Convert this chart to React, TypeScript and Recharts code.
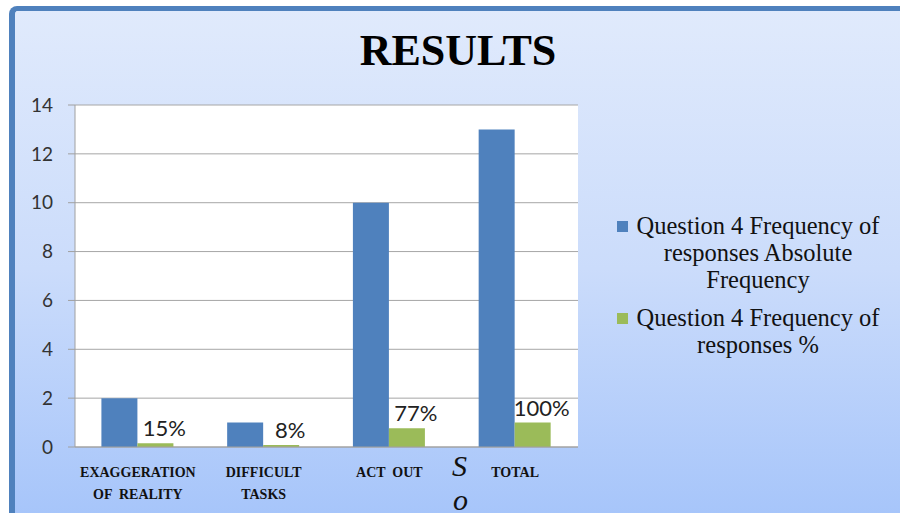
import { BarChart, Bar, XAxis, YAxis, CartesianGrid, LabelList } from 'recharts'

const categories = ['EXAGGERATION\nOF  REALITY', 'DIFFICULT\nTASKS', 'ACT  OUT', 'TOTAL']
const absoluteFrequency = [2, 1, 10, 13]
const percentFrequency = [0.15, 0.08, 0.77, 1.0]
const percentLabels = ['15%', '8%', '77%', '100%']
const yTicks = [0, 2, 4, 6, 8, 10, 12, 14]

const seriesNames = [
  'Question 4 Frequency of responses Absolute Frequency',
  'Question 4 Frequency of responses %',
]
const legendLines = [
  ['Question 4 Frequency of', 'responses Absolute', 'Frequency'],
  ['Question 4 Frequency of', 'responses %'],
]

const BLUE = '#4F81BD'
const GREEN = '#9BBB59'
const SERIF = '"Liberation Serif", "Times New Roman", serif'
const SANS = 'Lato, "Open Sans", sans-serif'

const data = categories.map((c, i) => ({
  name: c,
  abs: absoluteFrequency[i],
  pct: percentFrequency[i],
  label: percentLabels[i],
}))

function CategoryTick(props: any) {
  const { x, y, payload } = props
  const lines = String(payload.value).split('\n')
  return (
    <text x={x} y={y + 30} textAnchor="middle" fontFamily={SERIF} fontWeight="bold" fontSize={14} fill="#111" style={{ whiteSpace: 'pre' }}>
      {lines.map((l, i) => (
        <tspan key={i} x={x} dy={i === 0 ? 0 : 22}>{l}</tspan>
      ))}
    </text>
  )
}

function PctLabel(props: any) {
  const { x, y, width, value } = props
  return (
    <text x={x + width / 2 + 9} y={y - 7} textAnchor="middle" fontFamily={SANS} fontSize={22} fill="#222">
      {value}
    </text>
  )
}

// legend drawn beside the plot, like the spreadsheet original
function LegendBox() {
  const colors = [BLUE, GREEN]
  return (
    <div style={{ position: 'absolute', left: 617, top: 212, fontFamily: SERIF, fontSize: 24.5, color: '#111' }}>
      {legendLines.map((lines, i) => (
        <div key={seriesNames[i]} style={{ display: 'flex', alignItems: 'flex-start', marginBottom: 11 }}>
          <div style={{ width: 11, height: 11, background: colors[i], marginTop: 9, marginRight: 3, flexShrink: 0 }} />
          <div style={{ width: 254, textAlign: 'center', lineHeight: '27px', whiteSpace: 'nowrap' }}>
            {lines.map((l) => (
              <div key={l}>{l}</div>
            ))}
          </div>
        </div>
      ))}
    </div>
  )
}

export default function App() {
  return (
    <div style={{ position: 'absolute', left: 0, top: 0, width: 900, height: 513, overflow: 'hidden', background: '#fff' }}>
      <div
        style={{
          position: 'absolute', left: 9, top: 6, width: 900, height: 520, boxSizing: 'border-box',
          borderTop: `5px solid ${BLUE}`, borderLeft: `6px solid ${BLUE}`, borderTopLeftRadius: 8,
          background: 'linear-gradient(to bottom, #e0eafc 0%, #cbdcfb 50%, #a5c4fa 100%)',
        }}
      />
      <div style={{ position: 'absolute', left: 258, width: 400, top: 29, textAlign: 'center', fontFamily: SERIF, fontWeight: 'bold', fontSize: 44, lineHeight: '44px', color: '#000' }}>
        RESULTS
      </div>
      <div style={{ position: 'absolute', left: 0, top: 0 }}>
        <BarChart width={900} height={513} data={data} margin={{ top: 105, right: 322, bottom: 0, left: 0 }} barCategoryGap="21%" barGap={0}>
          <CartesianGrid vertical={false} stroke="#a6a6a6" fill="#fff" />
          <XAxis dataKey="name" height={66} tick={<CategoryTick />} tickLine={false} tickSize={0} tickMargin={0} axisLine={{ stroke: '#a0a0a0' }} interval={0} />
          <YAxis width={75} domain={[0, 14]} ticks={yTicks} tickSize={7} tickMargin={15} tickLine={{ stroke: '#a0a0a0' }} axisLine={{ stroke: '#a0a0a0' }} tick={{ fontFamily: SANS, fontSize: 19, fill: '#333' }} />
          <Bar dataKey="abs" name={seriesNames[0]} fill={BLUE} isAnimationActive={false} />
          <Bar dataKey="pct" name={seriesNames[1]} fill={GREEN} isAnimationActive={false}>
            <LabelList dataKey="label" content={<PctLabel />} />
          </Bar>
        </BarChart>
      </div>
      <LegendBox />
      <span style={{ position: 'absolute', left: 452, top: 448, fontFamily: SERIF, fontStyle: 'italic', fontSize: 30, lineHeight: '36px', color: '#111' }}>S</span>
      <span style={{ position: 'absolute', left: 453, top: 482, fontFamily: SERIF, fontStyle: 'italic', fontSize: 30, lineHeight: '36px', color: '#111' }}>o</span>
    </div>
  )
}
